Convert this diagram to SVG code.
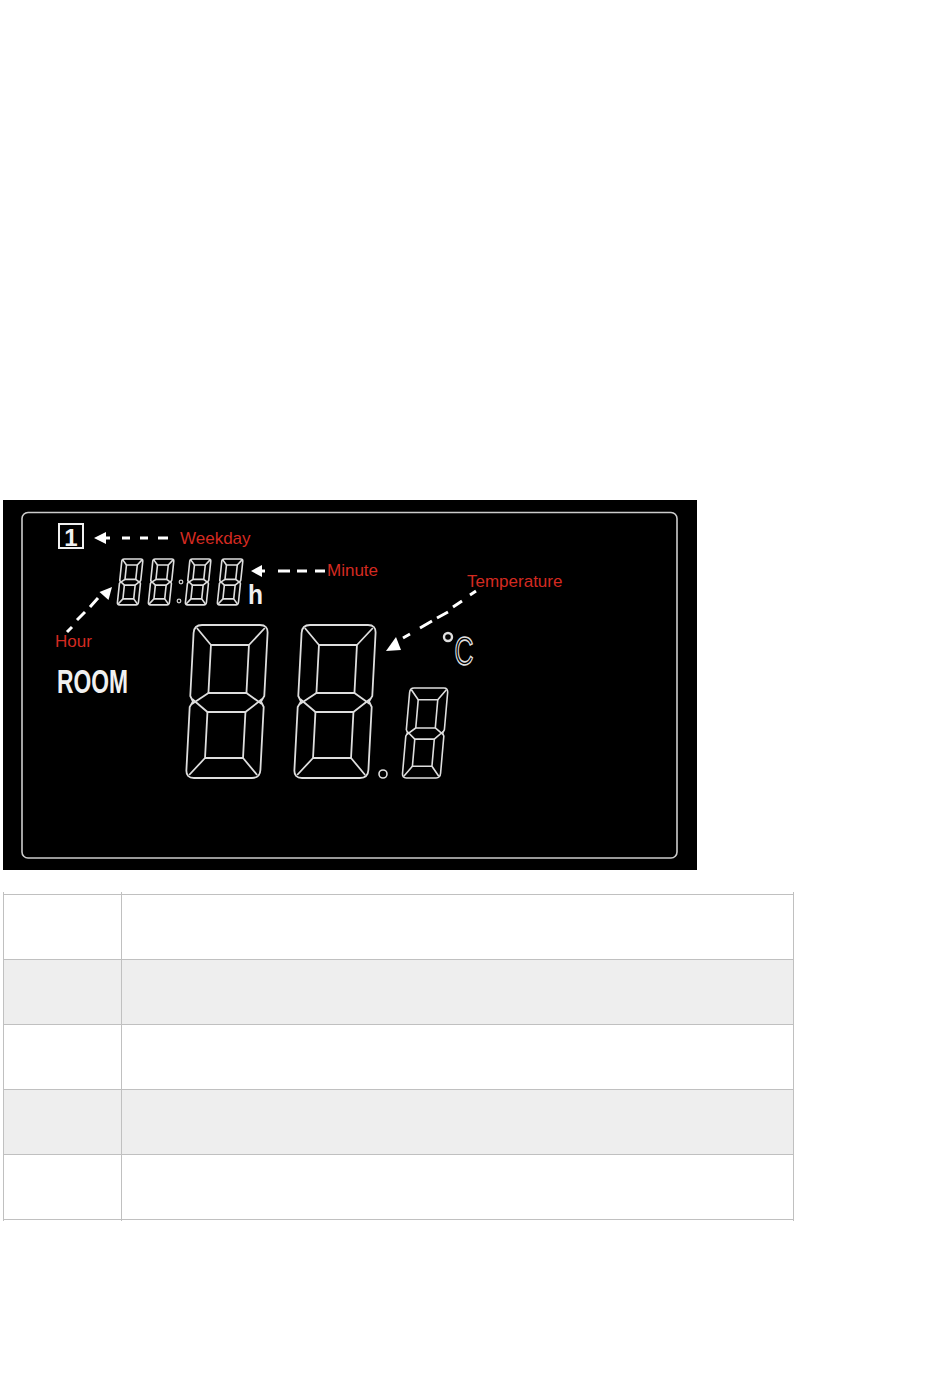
<svg xmlns="http://www.w3.org/2000/svg" xmlns:xlink="http://www.w3.org/1999/xlink" width="950" height="1381" viewBox="0 0 950 1381">
<style>
.seg{fill:none;stroke:#dedede;vector-effect:non-scaling-stroke}
.lbl{font-family:"Liberation Sans",Arial,sans-serif;font-size:17px;fill:#d42a20}
.dash{stroke:#ffffff;stroke-width:3;fill:none}
.ah{fill:#ffffff}
.wt{font-family:"Liberation Sans",Arial,sans-serif;font-weight:bold;fill:#f0f0f0}
.grid{stroke:#c0c0c0;stroke-width:1;fill:none}
</style>
<defs>
<g id="digit">
<path class="seg" d="M8,0 H66 Q74,0 74,8 V71 L71,76.5 L74,82 V145 Q74,153 66,153 H8 Q0,153 0,145 V82 L3,76.5 L0,71 V8 Q0,0 8,0 Z"/>
<rect class="seg" x="18" y="20" width="38" height="48"/>
<rect class="seg" x="18" y="87" width="38" height="46"/>
<path class="seg" d="M3,3 L18,20 M71,3 L56,20 M3,150 L18,133 M71,150 L56,133 M18,68 L2,79 M18,87 L2,74 M56,68 L72,79 M56,87 L72,74"/>
</g>
</defs>
<rect width="950" height="1381" fill="#ffffff"/>
<g id="lcd">
<rect x="3" y="500" width="694" height="370" fill="#000000"/>
<rect x="22" y="512.5" width="655" height="345.5" rx="6" fill="none" stroke="#cccccc" stroke-width="1.6"/>
</g>
<g id="weekday">
<rect x="59" y="524" width="24" height="24" fill="none" stroke="#f0f0f0" stroke-width="2"/>
<text class="wt" x="71" y="546" font-size="24" text-anchor="middle">1</text>
</g>
<g id="clock">
<use xlink:href="#digit" transform="translate(122,559) skewX(-6) scale(0.284,0.3)" style="stroke-width:1.6"/>
<use xlink:href="#digit" transform="translate(153,559) skewX(-6) scale(0.284,0.3)" style="stroke-width:1.6"/>
<circle cx="181" cy="582" r="1.8" fill="none" stroke="#cccccc" stroke-width="1.3"/>
<circle cx="179" cy="601" r="1.8" fill="none" stroke="#cccccc" stroke-width="1.3"/>
<use xlink:href="#digit" transform="translate(190,559) skewX(-6) scale(0.284,0.3)" style="stroke-width:1.6"/>
<use xlink:href="#digit" transform="translate(222,559) skewX(-6) scale(0.284,0.3)" style="stroke-width:1.6"/>
<text class="wt" x="248" y="604" font-size="28" textLength="15" lengthAdjust="spacingAndGlyphs">h</text>
</g>
<g id="room">
<text class="wt" x="57" y="693" font-size="34" textLength="71" lengthAdjust="spacingAndGlyphs">ROOM</text>
</g>
<g id="temperature-digits" style="stroke-width:1.8">
<use xlink:href="#digit" transform="translate(194,625) skewX(-3)"/>
<use xlink:href="#digit" transform="translate(302,625) skewX(-3)"/>
<circle cx="383" cy="774" r="4" fill="none" stroke="#dedede" stroke-width="1.6"/>
<use xlink:href="#digit" transform="translate(410,688) skewX(-5) scale(0.514,0.588)" style="stroke-width:1.6"/>
</g>
<g id="unit">
<circle cx="448" cy="637" r="4" fill="none" stroke="#dedede" stroke-width="2.4"/>
<text x="464" y="665" font-family="'Liberation Sans',Arial,sans-serif" font-size="40" text-anchor="middle" textLength="19" lengthAdjust="spacingAndGlyphs" fill="none" stroke="#dedede" stroke-width="1.6">C</text>
</g>
<g id="connectors">
<polygon class="ah" points="94,538 106,532 106,544"/>
<path class="dash" d="M104,538H110M122,538H130M140,538H148M158,538H168"/>
<polygon class="ah" points="251,571 262,565 262,577"/>
<path class="dash" d="M260,571H265M278,571H290M297,571H307M315,571H325"/>
<polygon class="ah" points="112,587 108.5,600 99.5,592"/>
<path class="dash" d="M67,632L72,627M77,620L85,612M90,607L98,598"/>
<polygon class="ah" points="386,651 401,650 396,637"/>
<path class="dash" d="M403,638L410,634M420,628L432,621M437,618L448,612M453,607L462,601M470,595L476,591"/>
</g>
<g id="labels">
<text class="lbl" x="180" y="544">Weekday</text>
<text class="lbl" x="327" y="576">Minute</text>
<text class="lbl" x="467" y="587">Temperature</text>
<text class="lbl" x="55" y="647">Hour</text>
</g>
<g id="table">
<rect x="3.5" y="959" width="790" height="65" fill="#eeeeee"/>
<rect x="3.5" y="1089" width="790" height="65" fill="#eeeeee"/>
<path class="grid" d="M3.5,892V1221M121.5,892V1221M793.5,892V1221M3.5,894.5H793.5M3.5,959.5H793.5M3.5,1024.5H793.5M3.5,1089.5H793.5M3.5,1154.5H793.5M3.5,1219.5H793.5"/>
</g>
</svg>
